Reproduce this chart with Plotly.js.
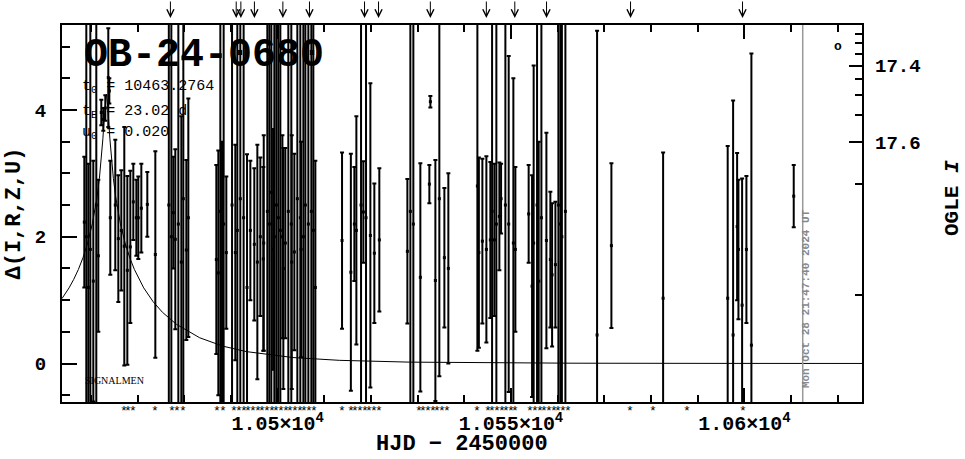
<!DOCTYPE html>
<html><head><meta charset="utf-8">
<script src="https://cdn.plot.ly/plotly-3.0.1.min.js"></script>
<style>html,body{margin:0;padding:0;background:#fff}#chart{width:965px;height:459px}</style>
</head><body><div id="chart"></div>
<script>
// Observations: HJD-2450000, Delta, error
const obsT = [
 10458.55,10458.98,10459.41,10459.84,10460.48,10461.12,10461.55,10462.19,10462.62,10463.05,10463.69,10463.91,10464.12,10465.19,10465.84,10466.48,10467.12,10467.77,10468.41,10469.05,10469.70,10470.12,10470.77,10472.05,10473.77,
 10476.66,10477.20,10477.62,10478.05,10478.70,10479.34,10479.77,10480.41,10480.84,
 10486.84,10487.27,10487.70,10488.06,10488.41,10488.98,10490.21,10490.91,10491.34,10491.98,10492.69,10493.42,10494.13,10494.98,10495.63,10496.27,10496.91,10497.77,10498.20,10498.63,10499.27,10499.70,10500.13,10500.56,10501.20,10501.63,10502.27,10502.91,10503.56,10504.20,10504.84,10505.49,10505.92,10506.56,10507.20,10507.63,10508.06,
 10497.0,10499.0,10501.0,10503.0,10505.0,
 10513.78,10515.67,10516.42,10516.85,10517.85,10518.35,10518.92,10519.85,10520.70,10521.77,
 10527.78,10528.42,10529.06,10530.56,10532.49,10532.71,10533.78,10534.63,10535.71,10536.56,
 10542.78,10543.10,10543.85,10544.71,10545.56,10545.93,10546.42,10546.85,10547.49,10547.86,10548.78,10549.49,10550.49,10550.92,
 10553.77,10554.50,10554.84,10555.57,10555.92,10556.50,10557.57,10558.42,10558.79,10559.50,10560.14,10560.57,10560.89,10561.64,
 10568.43,10571.50,
 10582.58,10596.42,10597.58,10598.44,10598.72,10599.51,10600.43,10601.50,10610.57
];
const obsD = [
 2.23,2.0,1.2,1.8,1.3,2.5,1.7,3.96,3.85,4.03,4.51,4.30,2.3,2.5,1.97,2.1,1.85,1.47,1.84,2.55,2.3,2.3,2.45,2.51,1.72,
 2.5,2.0,2.38,1.96,2.2,1.6,2.6,1.79,2.3,
 1.64,1.43,2.4,1.3,2.2,1.75,2.5,1.75,2.1,2.6,2.3,1.2,2.1,1.88,1.6,2.0,1.65,2.4,2.2,2.7,2.0,2.5,2.3,2.1,1.5,1.9,2.4,2.2,1.76,2.6,2.3,2.0,2.5,2.2,2.4,2.1,1.2,
 1.9,1.8,2.0,1.6,1.8,
 1.94,1.44,2.2,2.1,2.5,2.39,2.3,2.02,1.74,1.95,
 1.77,2.4,2.2,1.36,2.83,4.13,1.31,2.6,1.67,1.5,
 2.8,1.75,1.93,1.8,1.95,2.4,1.95,2.2,2.32,2.6,2.5,2.2,1.9,1.8,
 2.36,1.22,1.9,2.5,1.3,2.3,1.94,1.64,1.4,1.56,2.5,2.2,2.0,2.4,
 0.45,1.86,
 1.03,1.03,0.45,2.16,1.8,0.92,1.8,0.29,2.64
];
const obsE = [
 1.03,6,1.95,6,1.9,6,1.2,0.2,0.18,0.2,0.78,0.2,0.9,1.03,1.0,0.95,1.88,1.49,1.2,0.6,0.6,0.65,0.7,0.51,1.63,
 6,6,0.88,1.42,6,2.3,6,1.42,1.88,
 1.49,1.93,6,2.2,6,1.2,6,1.7,6,6,6,2.1,1.1,1.2,1.85,1.25,1.45,6,6,6,6,6,6,6,1.9,1.5,6,6,1.55,6,6,6,6,6,6,6,2.0,
 1.7,1.9,1.6,2.0,1.7,
 1.39,1.87,0.9,1.8,6,0.8,6,2.4,1.1,1.13,
 1.14,6,6,1.8,0.3,0.09,1.9,2.8,1.1,1.5,
 2.6,1.5,1.3,1.47,1.23,6,1.2,6,0.85,0.55,6,2.65,2.6,1.3,
 0.77,1.75,2.8,6,2.2,6,1.7,1.07,1.13,0.99,6,6,6,6,
 4.8,1.3,
 2.3,2.4,3.7,1.16,1.1,2.0,1.16,4.6,0.49
];
// Model curve (t0 = 10463.2764, tE = 23.02 d, u0 = 0.020)
const modelT = [10453.78,10455.28,10456.28,10457.28,10458.28,10459.28,10460.28,10460.78,10461.28,10461.78,10462.03,10462.28,10462.53,10462.78,10463.03,10463.18,10463.28,10463.38,10463.53,10463.78,10464.03,10464.28,10464.53,10464.78,10465.28,10465.78,10466.28,10467.28,10468.28,10469.28,10470.28,10471.28,10473.28,10475.28,10478.28,10483.28,10488.28,10493.28,10503.28,10513.28,10528.28,10543.28,10563.28,10593.28,10625.28];
const modelD = [1.026,1.193,1.327,1.484,1.672,1.906,2.207,2.397,2.627,2.918,3.096,3.302,3.545,3.824,4.107,4.223,4.248,4.223,4.107,3.824,3.545,3.302,3.096,2.918,2.627,2.397,2.207,1.906,1.672,1.484,1.327,1.193,0.977,0.809,0.619,0.406,0.273,0.188,0.094,0.050,0.022,0.011,0.005,0.002,0.001];
// Arrow marks above the plot
const arrowT = [10477.0,10491.1,10492.1,10495.0,10501.1,10506.8,10518.6,10521.6,10532.7,10544.7,10550.8,10557.6,10575.6,10599.6];
// Asterisk marks below the plot
const starT = [10467.1,10468.0,10469.0,10473.77,10477.35,10478.4,10479.7,10487.0,10488.3,
 10490.7,10491.7,10492.7,10493.7,10494.7,10495.7,10496.7,10497.7,10498.7,10499.7,10500.7,10501.7,10502.7,10503.7,10504.7,10505.7,10506.7,10507.7,
 10513.8,10515.6,10516.6,10517.6,10518.6,10519.6,10520.6,10521.6,
 10530.2,10531.2,10532.2,10533.2,10534.2,10535.2,10536.2,
 10542.7,10545.0,10546.0,10547.0,10548.0,10549.0,10550.0,10550.9,
 10554.1,10555.1,10556.1,10557.1,10558.1,10559.1,10560.1,10561.1,10562.1,
 10575.57,10580.5,10587.79,10599.72];
const xTickVals = [10500,10550,10600];
const xTickText = ['1.05×10<sup>4</sup>','1.055×10<sup>4</sup>','1.06×10<sup>4</sup>'];
const yTickVals = [0,2,4];
const yTickText = ['0','2','4'];
const magMajor = [17.4,17.6];
const magMajorText = ['17.4','17.6'];
const magMinor = [17.25,17.3,17.35,17.45,17.5,17.55,17.65,17.7];
const baseMag = 17.708, blendFrac = 0.00438;
const nowT = 10612.5;

function magToDelta(m){ return 2.5*Math.log10(1 + (Math.pow(10,0.4*(baseMag-m))-1)/blendFrac); }
const xMinor = []; for(let v=10460; v<=10620; v+=10){ if(v%50) xMinor.push(v); }
const yMinor = []; for(let v=-0.5; v<=5.01; v+=0.5){ if(Math.abs(v-Math.round(v/2)*2)>0.01) yMinor.push(v); }

const xr = [10453.77,10625.2], yr = [-0.607,5.34];
const FM = 'Liberation Mono, Courier New, monospace';

const traces = [
 {x:modelT,y:modelD,mode:'lines',line:{color:'#000',width:1},hoverinfo:'skip',showlegend:false},
 {x:obsT,y:obsD,mode:'markers',marker:{color:'#000',size:3,symbol:'square'},
  error_y:{type:'data',array:obsE,visible:true,color:'#000',thickness:2,width:2},showlegend:false},
 {x:[null],y:[null],yaxis:'y2',showlegend:false,hoverinfo:'skip'},
 {x:[null],y:[null],yaxis:'y3',showlegend:false,hoverinfo:'skip'},
 {x:[null],y:[null],xaxis:'x2',yaxis:'y4',showlegend:false,hoverinfo:'skip'}
];

const ann = [];
arrowT.forEach(t=>ann.push({x:t,xref:'x',y:1.0186,yref:'paper',text:'',showarrow:true,ax:0,ay:-18,
  arrowhead:5,arrowsize:1.4,arrowwidth:1,arrowcolor:'#000',standoff:0}));
starT.forEach(t=>ann.push({x:t,xref:'x',y:-0.024,yref:'paper',xanchor:'center',yanchor:'middle',text:'*',showarrow:false,
  font:{family:FM,size:13,color:'#000'}}));
ann.push({x:0.025,y:0.92,xref:'paper',yref:'paper',xanchor:'left',yanchor:'middle',showarrow:false,
  text:'OB-24-0680',font:{family:FM,size:40,color:'#000',weight:'bold'}});
ann.push({x:0.023,y:0.835,xref:'paper',yref:'paper',xanchor:'left',yanchor:'middle',showarrow:false,
  text:'t<sub>0</sub> = 10463.2764',font:{family:FM,size:15,color:'#000'}});
ann.push({x:0.023,y:0.769,xref:'paper',yref:'paper',xanchor:'left',yanchor:'middle',showarrow:false,
  text:'t<sub>E</sub> = 23.02 d',font:{family:FM,size:15,color:'#000'}});
ann.push({x:0.023,y:0.713,xref:'paper',yref:'paper',xanchor:'left',yanchor:'middle',showarrow:false,
  text:'u<sub>0</sub> = 0.020',font:{family:FM,size:15,color:'#000'}});
ann.push({x:0.026,y:0.058,xref:'paper',yref:'paper',xanchor:'left',yanchor:'middle',showarrow:false,
  text:'SIGNALMEN',font:{family:'Liberation Serif',size:10,color:'#000'}});
ann.push({x:0.97,y:0.942,xref:'paper',yref:'paper',xanchor:'center',yanchor:'middle',showarrow:false,
  text:'o',font:{family:FM,size:13,color:'#000',weight:'bold'}});
ann.push({x:0.93,y:0.273,xref:'paper',yref:'paper',xanchor:'center',yanchor:'middle',showarrow:false,textangle:-90,
  text:'Mon Oct 28 21:47:40 2024 UT',font:{family:FM,size:11,color:'#888',weight:'bold'}});
ann.push({x:0.5,y:-0.114,xref:'paper',yref:'paper',xanchor:'center',yanchor:'middle',showarrow:false,
  text:'HJD − 2450000',font:{family:FM,size:22,color:'#000',weight:'bold'}});
ann.push({x:-0.06,y:0.5,xref:'paper',yref:'paper',xanchor:'center',yanchor:'middle',showarrow:false,textangle:-90,
  text:'Δ(I,R,Z,U)',font:{family:FM,size:22,color:'#000',weight:'bold'}});
ann.push({x:1.1125,y:0.541,xref:'paper',yref:'paper',xanchor:'center',yanchor:'middle',showarrow:false,textangle:-90,
  text:'OGLE <i>I</i>',font:{family:FM,size:21,color:'#000',weight:'bold'}});

const layout = {
 width:965,height:459,margin:{l:62,r:103,t:25,b:57},
 paper_bgcolor:'#fff',plot_bgcolor:'#fff',showlegend:false,
 xaxis:{range:xr,tickmode:'array',tickvals:xTickVals,ticktext:xTickText,ticks:'inside',ticklen:14,tickwidth:2,tickcolor:'#000',
   showline:true,linewidth:2,linecolor:'#000',mirror:'ticks',showgrid:false,zeroline:false,
   tickfont:{family:FM,size:20,color:'#000',weight:'bold'},ticklabelstandoff:2},
 xaxis2:{range:xr,overlaying:'x',anchor:'y',side:'bottom',tickmode:'array',tickvals:xMinor,ticks:'inside',ticklen:7,tickwidth:2,tickcolor:'#000',
   showline:true,linewidth:2,linecolor:'#000',mirror:'ticks',showgrid:false,zeroline:false,showticklabels:false},
 yaxis:{range:yr,tickmode:'array',tickvals:yTickVals,ticktext:yTickText,ticks:'inside',ticklen:15,tickwidth:2,tickcolor:'#000',
   showline:true,linewidth:2,linecolor:'#000',mirror:true,showgrid:false,zeroline:false,
   tickfont:{family:FM,size:19,color:'#000',weight:'bold'},ticklabelstandoff:10},
 yaxis2:{range:yr,overlaying:'y',side:'right',anchor:'x',tickmode:'array',tickvals:magMajor.map(magToDelta),ticktext:magMajorText,
   ticks:'inside',ticklen:13,tickwidth:2,tickcolor:'#000',showline:false,showgrid:false,zeroline:false,
   tickfont:{family:FM,size:19,color:'#000',weight:'bold'},ticklabelstandoff:12},
 yaxis3:{range:yr,overlaying:'y',side:'right',anchor:'x',tickmode:'array',tickvals:magMinor.map(magToDelta),
   ticks:'inside',ticklen:7,tickwidth:2,tickcolor:'#000',showline:false,showgrid:false,zeroline:false,showticklabels:false},
 yaxis4:{range:yr,overlaying:'y',side:'left',anchor:'x2',tickmode:'array',tickvals:yMinor,
   ticks:'inside',ticklen:8,tickwidth:2,tickcolor:'#000',showline:false,showgrid:false,zeroline:false,showticklabels:false},
 shapes:[{type:'line',xref:'x',yref:'paper',x0:nowT,x1:nowT,y0:0,y1:1,line:{color:'#999',width:1.5}}],
 annotations:ann
};
Plotly.newPlot('chart',traces,layout,{staticPlot:true});
</script></body></html>
